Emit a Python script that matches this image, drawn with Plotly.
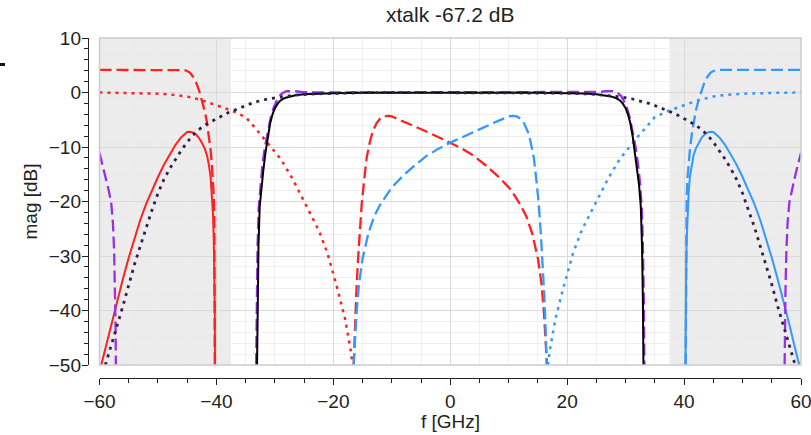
import plotly.graph_objects as go

# ---------------- data ----------------
# black solid (filter response)
blk_x = [-33.05, -32.95, -32.8, -32.6, -32.3, -32.0, -31.6, -31.2, -30.8, -30.4, -30.0, -29.5, -29.0, -28.3,
         -27.5, -26.5, -25.0, -23.0, -20.0, -15.0, -10.0, -5.0, 0.0,
         5.0, 10.0, 15.0, 20.0, 23.0, 25.0, 26.5, 27.5, 28.3, 29.0, 29.5, 30.0, 30.4, 30.8, 31.2, 31.6, 32.0,
         32.3, 32.6, 32.8, 32.95, 33.05]
blk_y = [-50, -38, -28, -21, -17, -14.5, -11, -8, -5.6, -4.0, -2.9, -2.0, -1.45, -1.0,
         -0.72, -0.5, -0.32, -0.2, -0.12, -0.06, -0.03, -0.02, -0.02,
         -0.02, -0.03, -0.06, -0.12, -0.2, -0.32, -0.5, -0.72, -1.0, -1.45, -2.0, -2.9, -4.0, -5.6, -8, -11, -14.5,
         -17, -21, -28, -38, -50]

# purple dashed (main band)
pur_x = [-33.2, -33.1, -32.95, -32.75, -32.45, -32.1, -31.7, -31.2, -30.7, -30.2, -29.7, -29.2, -28.6, -28.0,
         -27.3, -26.5, -25.5, -24.0, -20.0, 0.0,
         20.0, 24.0, 25.5, 26.5, 27.3, 28.0, 28.6, 29.2, 29.7, 30.2, 30.7, 31.2, 31.7, 32.1, 32.45, 32.75, 32.95,
         33.1, 33.2]
pur_y = [-50, -38, -28, -21, -16.5, -13, -10, -7, -4.6, -2.8, -1.5, -0.6, -0.05, 0.25,
         0.3, 0.22, 0.1, 0.02, 0.0, 0.0,
         0.0, 0.02, 0.1, 0.22, 0.3, 0.25, -0.05, -0.6, -1.5, -2.8, -4.6, -7, -10, -13, -16.5, -21, -28,
         -38, -50]
# purple dashed (edges)
purL_x = [-60.0, -59.5, -59.0, -58.5, -58.0, -57.7, -57.5, -57.35, -57.25, -57.2]
purL_y = [-11.1, -13.1, -15.3, -17.6, -20.2, -24, -29, -36, -43, -50]
purR_x = [57.2, 57.25, 57.35, 57.5, 57.7, 58.0, 58.5, 59.0, 59.5, 60.0]
purR_y = [-50, -43, -36, -29, -24, -20.2, -17.6, -15.3, -13.1, -11.1]

# dark dotted
dot_x = [-59.0, -58.0, -57.0, -56.0, -55.0, -54.0, -53.0, -52.0, -51.0, -50.0, -49.0, -48.0, -47.0, -46.0,
         -45.0, -44.0, -43.0, -42.0, -41.0, -40.0, -39.0, -38.0, -37.0, -36.0, -35.0, -34.0, -33.0, -31.0,
         -29.0, -27.0, -24.0, -20.0, -15.0, -10.0, 0.0,
         10.0, 15.0, 20.0, 24.0, 27.0, 29.0, 31.0, 33.0, 34.0, 35.0, 36.0, 37.0, 38.0, 39.0, 40.0, 41.0, 42.0,
         43.0, 44.0, 45.0, 46.0, 47.0, 48.0, 49.0, 50.0, 51.0, 52.0, 53.0, 54.0, 55.0, 56.0, 57.0, 58.0, 59.0]
dot_y = [-50, -46.2, -42.8, -39.2, -35.2, -31.5, -28.1, -24.6, -21.5, -18.5, -16.0, -14.0, -12.2, -10.6,
         -9.1, -7.8, -6.8, -6.0, -5.4, -4.8, -4.2, -3.7, -3.3, -2.8, -2.4, -2.0, -1.65, -1.15,
         -0.8, -0.52, -0.28, -0.12, -0.04, 0.0, 0.0,
         0.0, -0.04, -0.12, -0.28, -0.52, -0.8, -1.15, -1.65, -2.0, -2.4, -2.8, -3.3, -3.7, -4.2, -4.8, -5.4, -6.0,
         -6.8, -7.8, -9.1, -10.6, -12.2, -14.0, -16.0, -18.5, -21.5, -24.6, -28.1, -31.5, -35.2, -39.2, -42.8,
         -46.2, -50]

# red solid
rs_x = [-59.7, -59.0, -58.0, -57.0, -56.0, -55.0, -54.0, -53.0, -52.0, -51.0, -50.0, -49.0, -48.0, -47.0,
        -46.0, -45.0, -44.5, -44.0, -43.5, -43.0, -42.5, -42.0, -41.6, -41.3, -41.0, -40.8, -40.6, -40.45,
        -40.35, -40.28, -40.25]
rs_y = [-50, -47.0, -42.5, -38.1, -34.2, -30.3, -26.6, -23.3, -20.4, -17.8, -15.5, -13.3, -11.4, -9.6,
        -8.2, -7.25, -7.2, -7.35, -7.7, -8.3, -9.2, -10.3, -11.6, -13.2, -15.5, -18, -22, -27,
        -33, -40, -50]
# red dashed (outer)
rdo_x = [-60.0, -46.0, -45.5, -45.0, -44.5, -44.0, -43.5, -43.0, -42.5, -42.0, -41.66, -41.3, -41.0, -40.8,
         -40.6, -40.45, -40.35, -40.3, -40.27]
rdo_y = [4.15, 4.15, 4.1, 3.95, 3.6, 2.9, 1.9, 0.5, -1.3, -3.4, -5.2, -7.8, -10.5, -12.8,
         -15.5, -19, -24, -32, -50]
# red dashed (central)
rdc_x = [-16.5, -16.3, -16.1, -15.8, -15.5, -15.15, -14.7, -14.3, -13.7, -13.2, -12.6, -12.0, -11.4, -10.6,
         -10.0, -8.0, -6.0, -4.0, -2.0, 0.0, 2.0, 4.0, 6.0, 8.0, 10.0, 11.0, 12.0, 13.0, 14.0, 15.0, 15.6,
         16.0, 16.3, 16.55]
rdc_y = [-50, -43, -37.5, -31, -26, -20.5, -15.8, -12.0, -8.8, -7.0, -5.6, -4.8, -4.4, -4.3,
         -4.4, -5.3, -6.3, -7.2, -8.2, -9.2, -10.3, -11.6, -13.3, -15.2, -17.4, -18.9, -20.6, -22.7, -25.8,
         -30.5, -35, -40, -45, -50]
# red dotted
rdt_x = [-60.0, -55.0, -50.0, -47.0, -45.0, -43.0, -41.0, -39.0, -37.0, -35.0, -34.0, -33.0, -32.0, -31.0,
         -29.0, -27.0, -25.0, -23.0, -22.3, -21.0, -19.4, -18.0, -17.0, -16.7]
rdt_y = [0.0, -0.08, -0.22, -0.45, -0.75, -1.25, -1.95, -2.7, -3.5, -4.5, -5.7, -7.0, -8.2, -9.4,
         -12.2, -15.8, -19.9, -24.2, -25.8, -29.5, -35.6, -41.5, -47.5, -50]

# blue solid
bs_x = [40.25, 40.28, 40.35, 40.45, 40.6, 40.8, 41.0, 41.3, 41.6, 42.0, 42.5, 43.0, 43.5, 44.0, 44.5, 45.0,
        46.0, 47.0, 48.0, 49.0, 50.0, 51.0, 52.0, 53.0, 54.0, 55.0, 56.0, 57.0, 58.0, 59.0, 59.7]
bs_y = [-50, -40, -33, -27, -22, -18, -15.5, -13.2, -11.6, -10.3, -9.2, -8.3, -7.7, -7.35, -7.2, -7.25,
        -8.2, -9.6, -11.4, -13.3, -15.5, -17.8, -20.4, -23.3, -26.6, -30.3, -34.2, -38.1, -42.5, -47.0, -50]
# blue dashed (outer)
bdo_x = [40.27, 40.3, 40.35, 40.45, 40.6, 40.8, 41.0, 41.3, 41.66, 42.0, 42.5, 43.0, 43.5, 44.0, 44.5,
         45.0, 45.5, 46.0, 60.0]
bdo_y = [-50, -32, -24, -19, -15.5, -12.8, -10.5, -7.8, -5.2, -3.4, -1.3, 0.5, 1.9, 2.9, 3.6,
         3.95, 4.1, 4.15, 4.15]
# blue dashed (central)
bdc_x = [-16.55, -16.3, -16.0, -15.6, -15.0, -14.0, -13.0, -12.0, -11.0, -10.0, -8.0, -6.0, -4.0, -2.0, 0.0,
         2.0, 4.0, 6.0, 8.0, 10.0, 10.6, 11.4, 12.0, 12.6, 13.2, 13.7, 14.3, 14.7, 15.15, 15.5, 15.8, 16.1,
         16.3, 16.5]
bdc_y = [-50, -45, -40, -35, -30.5, -25.8, -22.7, -20.6, -18.9, -17.4, -15.2, -13.3, -11.6, -10.3, -9.2,
         -8.2, -7.2, -6.3, -5.3, -4.4, -4.3, -4.4, -4.8, -5.6, -7.0, -8.8, -12.0, -15.8, -20.5, -26, -31, -37.5,
         -43, -50]
# blue dotted
bdt_x = [16.7, 17.0, 18.0, 19.4, 21.0, 22.3, 23.0, 25.0, 27.0, 29.0, 31.0, 32.0, 33.0, 34.0, 35.0, 37.0,
         39.0, 41.0, 43.0, 45.0, 47.0, 50.0, 55.0, 60.0]
bdt_y = [-50, -47.5, -41.5, -35.6, -29.5, -25.8, -24.2, -19.9, -15.8, -12.2, -9.4, -8.2, -7.0, -5.7, -4.5,
         -3.5, -2.7, -1.95, -1.25, -0.75, -0.45, -0.22, -0.08, 0.0]

x_ticks = [-60, -40, -20, 0, 20, 40, 60]
y_ticks = [10, 0, -10, -20, -30, -40, -50]
shade_left = [-60, -37.5]
shade_right = [37.5, 60]
title_text = "xtalk -67.2 dB"
x_label = "f [GHz]"
y_label = "mag [dB]"

RED = "#ff2020"
BLUE = "#3399ff"
PURPLE = "#9a30e6"
DARK = "#33204a"
DASH = "12px,5px"
DOT = "3px,5px"

fig = go.Figure()


def add(x, y, color, dash, width):
    fig.add_trace(go.Scatter(x=x, y=y, mode="lines", line=dict(color=color, dash=dash, width=width),
                             showlegend=False, hoverinfo="skip"))


add(rdt_x, rdt_y, RED, DOT, 2.5)
add(bdt_x, bdt_y, BLUE, DOT, 2.5)
add(rdc_x, rdc_y, RED, DASH, 2.3)
add(bdc_x, bdc_y, BLUE, DASH, 2.3)
add(rdo_x, rdo_y, RED, DASH, 2.3)
add(bdo_x, bdo_y, BLUE, DASH, 2.3)
add(rs_x, rs_y, RED, "solid", 2.0)
add(bs_x, bs_y, BLUE, "solid", 2.0)
add(purL_x, purL_y, PURPLE, DASH, 2.3)
add(purR_x, purR_y, PURPLE, DASH, 2.3)
add(pur_x, pur_y, PURPLE, DASH, 2.4)
add(blk_x, blk_y, "#000000", "solid", 2.0)
add(dot_x, dot_y, DARK, DOT, 2.8)

FONT = "Liberation Sans, Arial, sans-serif"
ML, MR, MT, MB = 88, 10, 38, 57
W, H = 811, 435
pw = W - ML - MR
ph = H - MT - MB
x0dom = (99.5 - ML) / pw
y0dom = (378 - 365) / ph

axis_common = dict(
    showline=True, linecolor="#222222", linewidth=1.4,
    ticks="outside", ticklen=6, tickwidth=1.3, tickcolor="#222222",
    showgrid=True, gridcolor="#dadada", gridwidth=1,
    zeroline=False, ticklabeloverflow="allow", automargin=False,
    tickfont=dict(family=FONT, size=19, color="#222222"),
)

fig.update_layout(
    width=W, height=H,
    margin=dict(l=ML, r=MR, t=MT, b=MB, autoexpand=False),
    paper_bgcolor="white", plot_bgcolor="white",
    xaxis=dict(range=[-60, 60], domain=[x0dom, 1], anchor="free", position=0,
               tickvals=x_ticks,
               minor=dict(dtick=5, tick0=0, ticks="outside", ticklen=3.5, tickwidth=1, tickcolor="#222222",
                          showgrid=True, gridcolor="#efefef", gridwidth=1),
               **axis_common),
    yaxis=dict(range=[-50, 10], domain=[y0dom, 1], anchor="free", position=0,
               tickvals=y_ticks, ticklabelstandoff=-3,
               minor=dict(dtick=2, tick0=0, ticks="outside", ticklen=3.5, tickwidth=1, tickcolor="#222222",
                          showgrid=True, gridcolor="#efefef", gridwidth=1),
               **axis_common),
    shapes=[
        dict(type="rect", xref="x", yref="y domain", x0=shade_left[0], x1=shade_left[1], y0=0, y1=1,
             fillcolor="#ececec", line=dict(width=0), layer="below"),
        dict(type="rect", xref="x", yref="y domain", x0=shade_right[0], x1=shade_right[1], y0=0, y1=1,
             fillcolor="#ececec", line=dict(width=0), layer="below"),
        dict(type="rect", xref="x domain", yref="y domain", x0=0, x1=1, y0=0, y1=1,
             line=dict(color="#cccccc", width=1.5), layer="above"),
        dict(type="line", xref="paper", yref="paper", x0=-ML / pw, x1=(5 - ML) / pw,
             y0=(378 - 64.5) / ph, y1=(378 - 64.5) / ph, line=dict(color="#111111", width=3)),
    ],
    annotations=[
        dict(text=title_text, xref="x domain", yref="paper", x=0.5, y=(378 - 14) / ph,
             showarrow=False, font=dict(family=FONT, size=21, color="#222222"), xanchor="center",
             yanchor="middle"),
        dict(text=x_label, xref="x domain", yref="paper", x=0.5, y=(378 - 421) / ph,
             showarrow=False, font=dict(family=FONT, size=19, color="#222222"), xanchor="center",
             yanchor="middle"),
        dict(text=y_label, xref="paper", yref="y domain", x=(30 - ML) / pw, y=0.5, textangle=-90,
             showarrow=False, font=dict(family=FONT, size=19, color="#222222"), xanchor="center",
             yanchor="middle"),
    ],
)

fig.write_html("out.html")
